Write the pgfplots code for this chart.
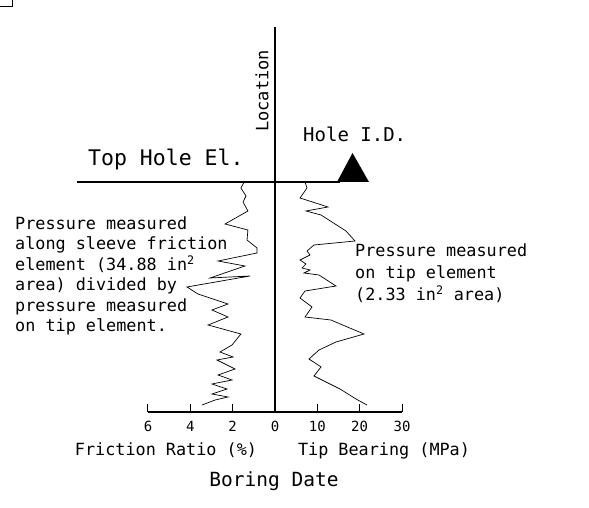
\documentclass[border=0pt]{standalone}
\usepackage{fontspec}
\setmainfont{DejaVu Sans Mono}
\usepackage{pgfplots}
\usepackage{pgfplotstable}
\pgfplotsset{compat=1.18}

\pgfplotstableread{
d fr
0.00 1.46
0.30 1.61
0.70 1.37
1.00 1.51
1.45 1.28
2.10 2.36
2.40 1.28
2.90 1.32
3.30 0.85
3.55 0.85
3.95 2.69
4.20 1.42
4.80 3.07
4.70 1.18
5.25 4.16
5.60 3.64
6.10 2.22
6.40 2.98
6.75 2.22
7.15 3.16
7.60 1.61
8.15 2.03
8.50 2.60
8.75 1.98
8.90 2.74
9.35 1.89
9.65 2.69
9.90 2.03
10.10 2.98
10.35 2.27
10.60 2.98
10.75 2.22
10.90 2.83
11.15 3.45
}\fric

\pgfplotstableread{
d qc
0.00 7.09
0.30 7.56
0.80 5.91
1.25 12.52
1.45 7.32
1.65 10.87
2.45 16.77
2.95 18.90
3.15 9.21
3.45 7.56
3.65 8.27
3.90 5.91
4.10 7.32
4.30 6.38
4.40 8.27
4.55 6.85
4.65 10.39
5.20 14.41
5.45 7.09
5.80 5.91
6.25 8.74
6.75 7.09
6.90 13.23
7.20 16.54
7.60 21.03
8.00 14.41
8.40 10.39
8.85 8.03
9.25 10.87
9.70 9.21
10.35 15.36
10.85 19.14
11.15 21.73
}\tip

\pgfplotsset{
  cptaxis/.style={
    scale only axis, width=127pt, height=230pt,
    anchor=south west,
    ymin=0, ymax=11.5, y dir=reverse,
    axis x line=bottom, axis y line=none,
    axis line style={-, line width=2.5pt},
    xtick align=inside,
    major tick length=8pt,
    tick style={line width=1pt, black},
    ticklabel style={font=\fontsize{14}{16}\selectfont},
    /pgf/number format/assume math mode=true,
    xticklabel style={yshift=-6pt},
    clip=false,
  }
}

\begin{document}
\begin{tikzpicture}[x=1pt,y=1pt]
\path[use as bounding box] (0,0) rectangle (589,508);
% small corner box
\draw[line width=1pt] (0,501) -- (12,501) -- (12,508);

\begin{axis}[cptaxis, at={(148pt,96pt)}, xmin=0, xmax=6, x dir=reverse,
  xtick={2,4,6}]
  \addplot[black, line width=0.7pt, mark=none] table[x=fr, y=d] {\fric};
\end{axis}

\begin{axis}[cptaxis, at={(275pt,96pt)}, xmin=0, xmax=30,
  xtick={0,10,20,30}]
  \addplot[black, line width=0.7pt, mark=none] table[x=qc, y=d] {\tip};
\end{axis}

% main lines
\draw[line width=2.5pt] (275,481) -- (275,96);
\draw[line width=2.5pt] (77,326) -- (340,326);
\fill[black] (337,326) -- (369,326) -- (352.5,355) -- cycle;

% texts
\node[rotate=90, inner sep=0pt, font=\fontsize{17}{19}\selectfont] at (262,417) {Location};
\node[anchor=base west, inner sep=0pt, font=\fontsize{21.5}{24}\selectfont] at (88,342) {Top Hole El.};
\node[anchor=base west, inner sep=0pt, font=\fontsize{19}{22}\selectfont] at (303,366) {Hole I.D.};

\node[anchor=base west, inner sep=0pt, align=left, font=\fontsize{16.8}{20.5}\selectfont] at (15,176)
  {Pressure measured\\along sleeve friction\\element (34.88 in\textsuperscript{2}\\area) divided by\\pressure measured\\on tip element.};
\node[anchor=base west, inner sep=0pt, align=left, font=\fontsize{16.8}{22}\selectfont] at (355,207)
  {Pressure measured\\on tip element\\(2.33 in\textsuperscript{2} area)};

\node[anchor=base, inner sep=0pt, font=\fontsize{16.8}{18}\selectfont] at (166,52) {Friction Ratio (\%)};
\node[anchor=base, inner sep=0pt, font=\fontsize{16.8}{18}\selectfont] at (384,52) {Tip Bearing (MPa)};
\node[anchor=base, inner sep=0pt, font=\fontsize{19.5}{22}\selectfont] at (274,21) {Boring Date};
\end{tikzpicture}
\end{document}
